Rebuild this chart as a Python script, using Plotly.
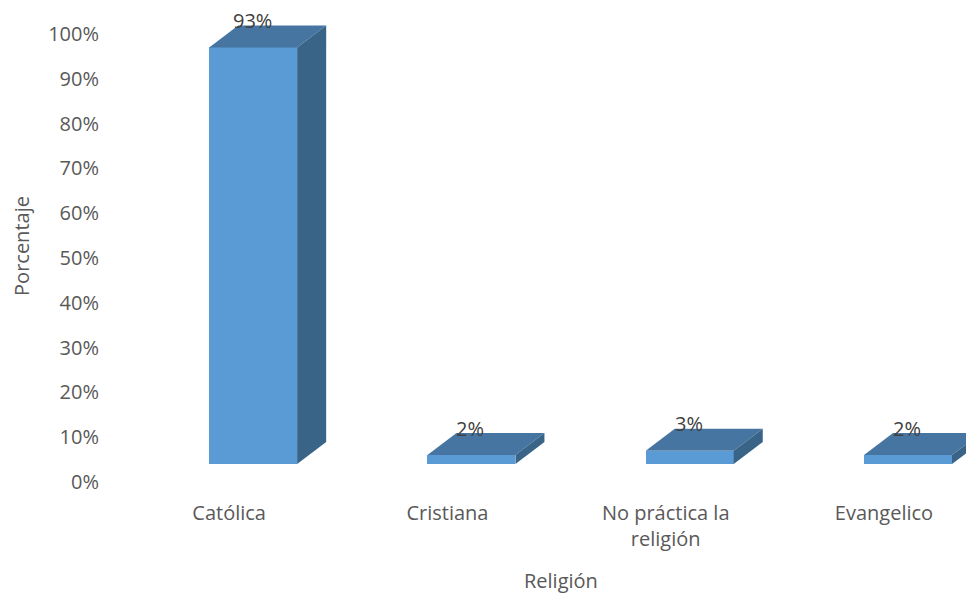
import plotly.graph_objects as go

categories = ["Católica", "Cristiana", "No práctica la<br>religión", "Evangelico"]
values = [93, 2, 3, 2]
value_labels = ["93%", "2%", "3%", "2%"]
y_ticks = [0, 10, 20, 30, 40, 50, 60, 70, 80, 90, 100]
y_tick_labels = [f"{v}%" for v in y_ticks]

FRONT = "#5B9BD5"
TOP = "#4675A2"
SIDE = "#396487"
TEXT = "#595959"
FONT = "Open Sans"

floor = 4.0        # 3D floor offset (axis units)
shift = 0.11       # front face shifted right of category label
bar_w = 0.403
dx = 0.133         # depth in x (category units)
dy = 4.91          # depth in y (percent units)

xs = [i + shift for i in range(len(categories))]

fig = go.Figure()
fig.add_trace(go.Bar(
    x=xs, y=values, base=[floor] * len(values), width=bar_w,
    marker=dict(color=FRONT, line=dict(width=0)),
    hoverinfo="skip", showlegend=False,
))

shapes = []
annotations = []
for x, v, lab in zip(xs, values, value_labels):
    x0, x1 = x - bar_w / 2, x + bar_w / 2
    top = floor + v
    shapes.append(dict(
        type="path", xref="x", yref="y", layer="above",
        path=f"M {x0} {top} L {x1} {top} L {x1+dx} {top+dy} L {x0+dx} {top+dy} Z",
        fillcolor=TOP, line=dict(width=0)))
    shapes.append(dict(
        type="path", xref="x", yref="y", layer="above",
        path=f"M {x1} {floor} L {x1} {top} L {x1+dx} {top+dy} L {x1+dx} {floor+dy} Z",
        fillcolor=SIDE, line=dict(width=0)))
    annotations.append(dict(
        x=x, y=top + dy, xref="x", yref="y", text=lab, showarrow=False,
        yanchor="middle", xanchor="center", yshift=5, xshift=-1,
        font=dict(family=FONT, size=20, color="#404040")))

# x-axis title placed as paper annotation (centred slightly right of plot centre)
annotations.append(dict(
    x=0.5117, y=0, xref="paper", yref="paper", yshift=-98,
    text="Religión", showarrow=False, xanchor="center", yanchor="middle",
    font=dict(family=FONT, size=20, color=TEXT)))

fig.update_layout(
    width=974, height=594,
    margin=dict(l=112, r=0, t=2, b=120),
    paper_bgcolor="white", plot_bgcolor="white",
    font=dict(family=FONT, size=20, color=TEXT),
    shapes=shapes, annotations=annotations,
    bargap=0,
    xaxis=dict(
        range=[-0.5, 3.449], tickmode="array",
        tickvals=list(range(len(categories))), ticktext=categories,
        showgrid=False, zeroline=False, showline=False, ticks="",
        ticklabelstandoff=17, automargin=False,
    ),
    yaxis=dict(
        range=[0, 105.36], tickmode="array", tickvals=y_ticks,
        ticktext=y_tick_labels,
        showgrid=False, zeroline=False, showline=False, ticks="",
        ticklabelstandoff=20, automargin=False,
        title=dict(text="Porcentaje", standoff=13,
                   font=dict(family=FONT, size=20, color=TEXT)),
    ),
)

fig.write_html("out.html")
